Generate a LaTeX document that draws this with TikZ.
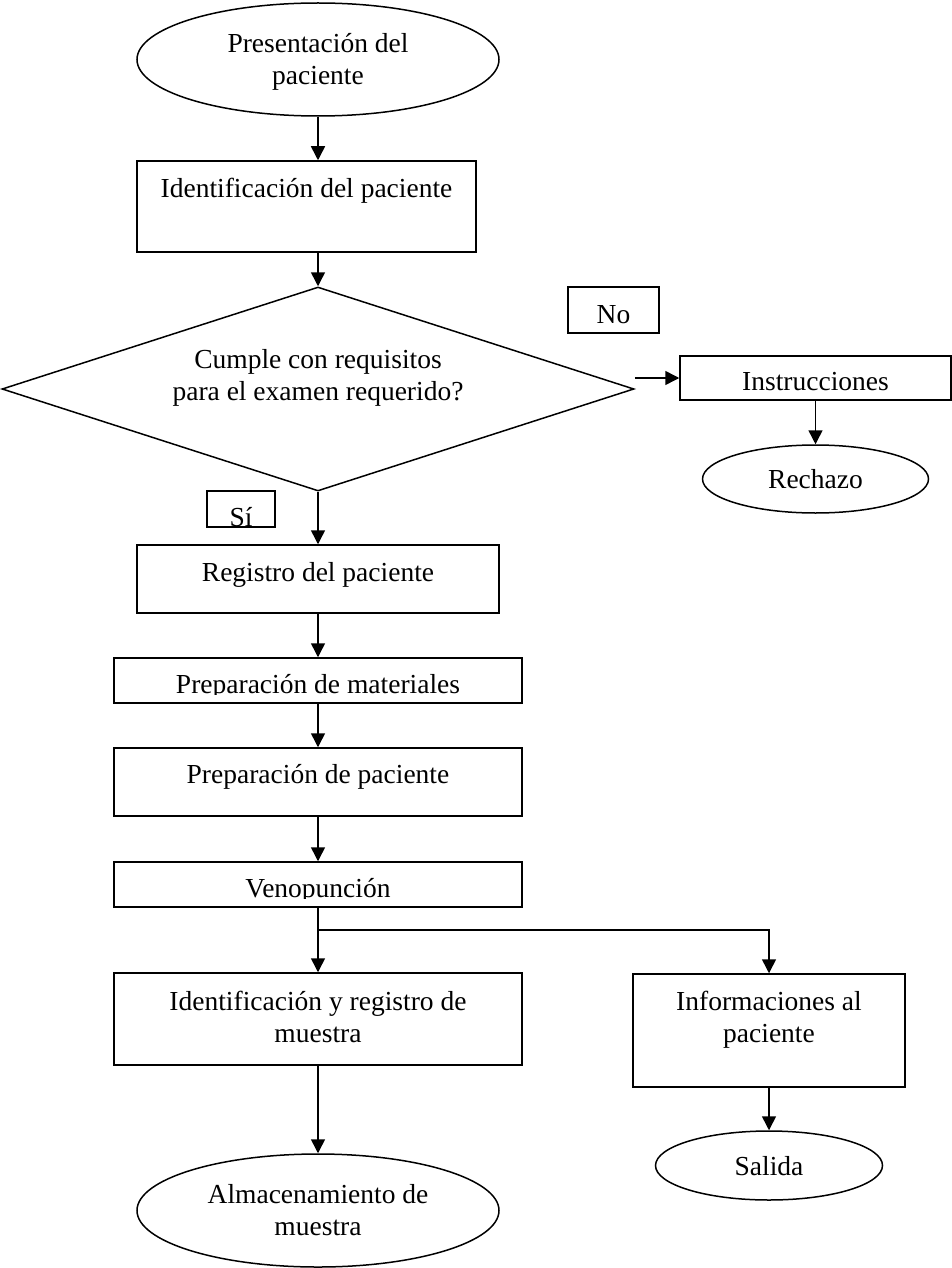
\documentclass[tikz,border=0pt]{standalone}
\usepackage{fontspec}
\setmainfont{Liberation Serif}
\usetikzlibrary{arrows.meta,positioning,shapes.geometric}

\begin{document}
\begin{tikzpicture}[
  x=1pt, y=-1pt,
  font=\fontsize{27.5}{32}\selectfont,
  caja/.style={draw, rectangle, inner sep=0pt, line width=1.5pt, align=flush center},
  ovalo/.style={draw, ellipse, inner sep=0pt, line width=1.5pt, align=flush center},
  rombo/.style={draw, diamond, aspect=3.1, inner sep=0pt, line width=1.5pt, align=flush center},
  cortada/.style={caja, text height=35pt, text depth=10pt, path picture={
      \clip (path picture bounding box.north west) rectangle ([yshift=-36pt]path picture bounding box.north east);
      \node[anchor=base, inner sep=0pt, draw=none, text width=, text height=, text depth=] at ([yshift=-35pt]path picture bounding box.north) {#1};}},
  flecha/.style={-{Triangle[length=14pt, width=14pt]}, line width=1.5pt}
]
\useasboundingbox (0,0) rectangle (952,1268);
\node[ovalo, minimum width=362pt, minimum height=113pt, text width=240pt, text height=19pt, text depth=32pt] (inicio) at (318,59.5) {Presentación del\\paciente};
\node[caja, text width=339pt, text height=36pt, text depth=55pt, below=43.5pt of inicio, xshift=-11.5pt] (ident) {Identificación del paciente};
\node[rombo, minimum width=632pt, minimum height=204pt, text width=300pt, text height=20pt, text depth=62pt] (decision) at (318,389) {Cumple con requisitos\\para el examen requerido?};
\node[caja, text width=362pt, text height=36pt, text depth=32pt, below=52.5pt of decision] (registro) {Registro del paciente};
\node[cortada=Preparación de materiales, text width=408pt, below=43.5pt of registro] (materiales) {};
\node[caja, text width=408pt, text height=35pt, text depth=33pt, below=43.5pt of materiales] (preparacion) {Preparación de paciente};
\node[cortada=Venopunción, text width=408pt, below=44.5pt of preparacion] (veno) {};
\node[caja, text width=408pt, text height=37pt, text depth=55pt, below=64.5pt of veno] (muestra) {Identificación y registro de\\muestra};
\node[ovalo, minimum width=362pt, minimum height=113pt, text width=240pt, text height=19pt, text depth=33pt, below=87.5pt of muestra] (almacen) {Almacenamiento de\\muestra};
\node[caja, text width=91pt, text height=36pt, text depth=10pt] (no) at (613.5,310) {No};
\node[caja, text width=68pt, text height=35pt, text depth=1pt] (si) at (241,509) {Sí};
\node[caja, text width=271pt, text height=34pt, text depth=10pt] (instr) at (815.5,378) {Instrucciones};
\node[ovalo, minimum width=226pt, minimum height=68pt, text width=150pt, text height=19pt, text depth=1pt, below=43.5pt of instr] (rechazo) {Rechazo};
\node[caja, text width=272pt, text height=36pt, text depth=77pt] (info) at (769,1030.5) {Informaciones al\\paciente};
\node[ovalo, minimum width=227pt, minimum height=69pt, text width=150pt, text height=19pt, text depth=0pt, below=42.5pt of info] (salida) {Salida};
\draw[flecha] (inicio.south) -- (inicio.south |- ident.north);
\draw[flecha] (decision.north |- ident.south) -- (decision.north);
\draw[flecha] (decision.south) -- (registro.north);
\draw[flecha] (decision.east |- instr.west) -- (instr.west);
\draw[flecha] (instr.south) -- (rechazo.north);
\draw[flecha] (registro.south) -- (materiales.north);
\draw[flecha] (materiales.south) -- (preparacion.north);
\draw[flecha] (preparacion.south) -- (veno.north);
\draw[flecha] (veno.south) -- (muestra.north);
\coordinate (ramal) at ([yshift=-22pt]veno.south);
\draw[flecha] (ramal) -| (info.north);
\draw[flecha] (muestra.south) -- (almacen.north);
\draw[flecha] (info.south) -- (salida.north);
\end{tikzpicture}
\end{document}
